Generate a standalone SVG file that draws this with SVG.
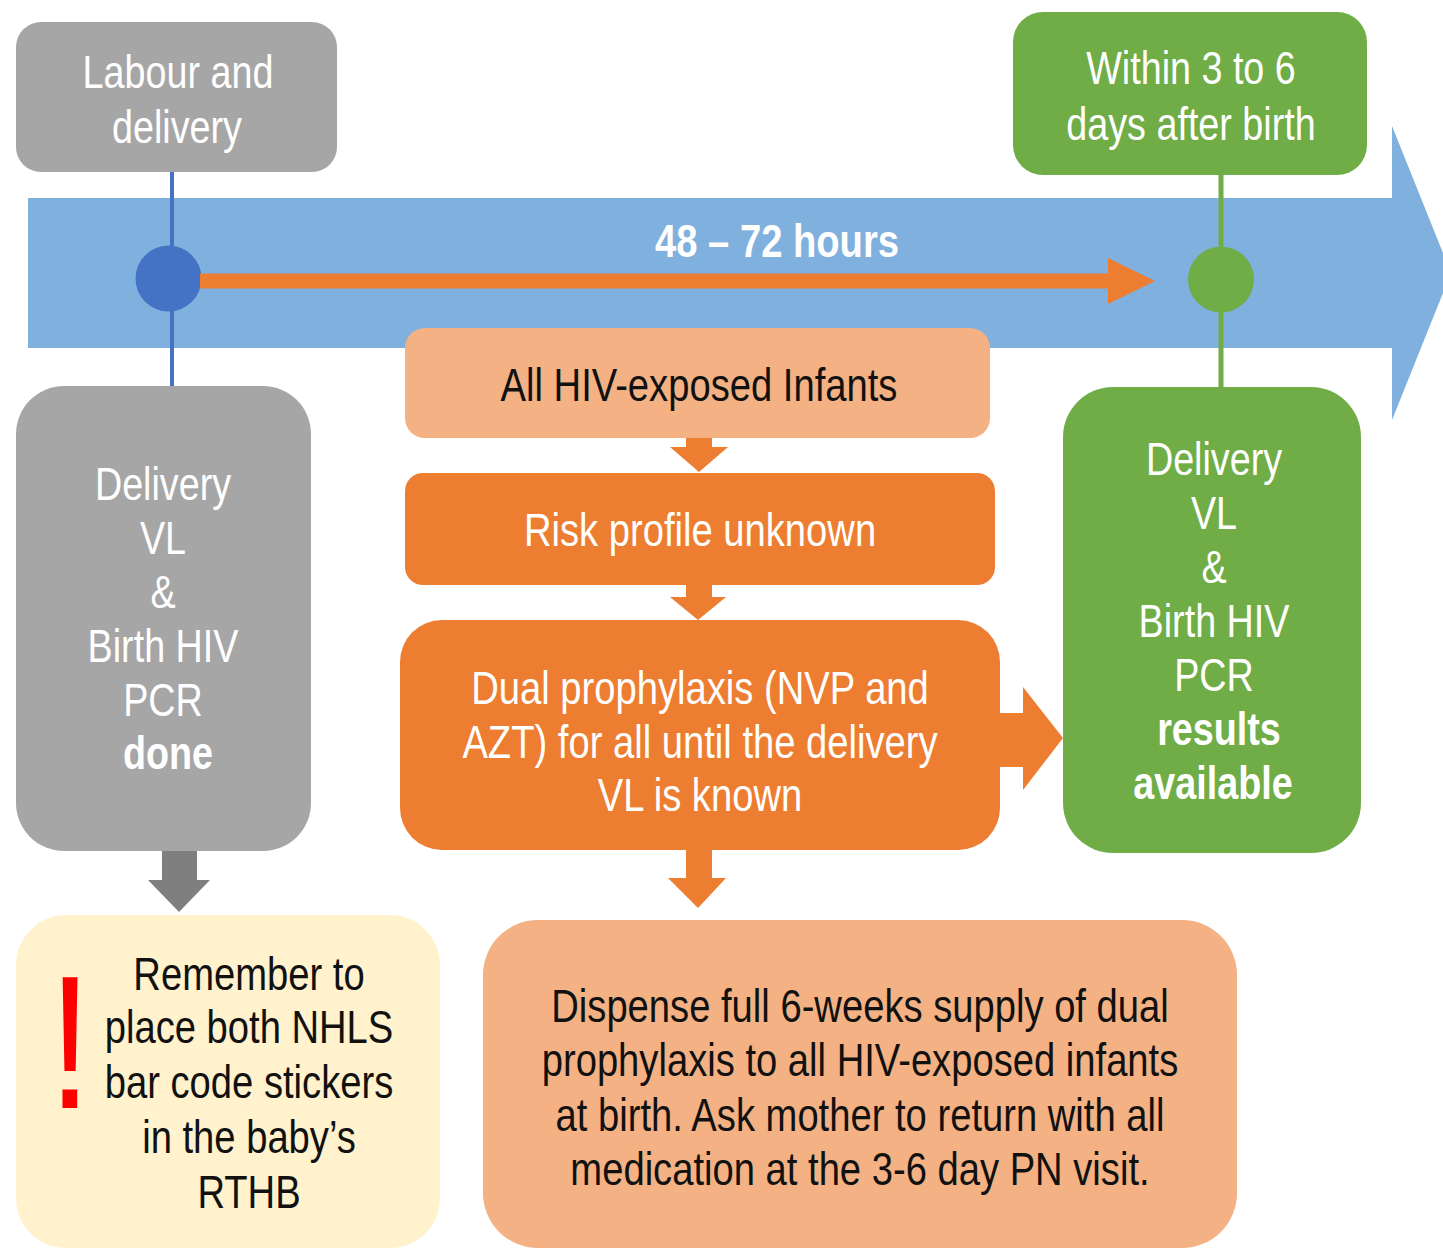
<svg xmlns="http://www.w3.org/2000/svg" width="1443" height="1251" viewBox="0 0 1443 1251">
<style>
text{font-family:"Liberation Sans Narrow","Liberation Sans",Arial,sans-serif;font-size:46px;text-anchor:middle}
.w{fill:#ffffff}
.k{fill:#111111}
.b{font-weight:bold}
</style>
<rect width="1443" height="1251" fill="#ffffff"/>
<g id="timeline">
<rect x="28" y="198" width="1365" height="150" fill="#7fb0de"/>
<polygon points="1392,126 1451,273 1392,420" fill="#7fb0de"/>
<text class="w b" transform="translate(777 257) scale(0.83 1)">48 – 72 hours</text>
</g>
<g id="connectors">
<line x1="172" y1="172" x2="172" y2="390" stroke="#4472c4" stroke-width="4"/>
<line x1="1221" y1="175" x2="1221" y2="388" stroke="#70ad47" stroke-width="5"/>
<circle cx="168.5" cy="278.5" r="33" fill="#4472c4"/>
<circle cx="1221" cy="279.5" r="33" fill="#70ad47"/>
<rect x="200" y="273.5" width="910" height="15" fill="#ed7d31"/>
<polygon points="1108,258 1155,281 1108,304" fill="#ed7d31"/>
<polygon points="686,436 712,436 712,447 728,447 699,472 670,447 686,447" fill="#ed7d31"/>
<polygon points="686,583 712,583 712,597 726,597 698,620 670,597 686,597" fill="#ed7d31"/>
<polygon points="686,848 712,848 712,878 726,878 698,908 668,878 686,878" fill="#ed7d31"/>
<polygon points="998,713 1023,713 1023,687 1063,738 1023,790 1023,767 998,767" fill="#ed7d31"/>
<polygon points="162,849 197,849 197,880 210,880 179,912 148,880 162,880" fill="#7f7f7f"/>
</g>
<g id="labour">
<rect x="16" y="22" width="321" height="150" rx="25" fill="#a6a6a6"/>
<text class="w" transform="translate(178 88) scale(0.82 1)">Labour and</text>
<text class="w" transform="translate(177 143) scale(0.82 1)">delivery</text>
</g>
<g id="within">
<rect x="1013" y="12" width="354" height="163" rx="30" fill="#70ad47"/>
<text class="w" transform="translate(1191 84) scale(0.82 1)">Within 3 to 6</text>
<text class="w" transform="translate(1191 140) scale(0.82 1)">days after birth</text>
</g>
<g id="done">
<rect x="16" y="386" width="295" height="465" rx="48" fill="#a6a6a6"/>
<text class="w" transform="translate(163 500) scale(0.82 1)">Delivery</text>
<text class="w" transform="translate(163 554) scale(0.82 1)">VL</text>
<text class="w" transform="translate(163 608) scale(0.82 1)">&amp;</text>
<text class="w" transform="translate(163 662) scale(0.82 1)">Birth HIV</text>
<text class="w" transform="translate(163 716) scale(0.82 1)">PCR</text>
<text class="w b" transform="translate(168 769) scale(0.82 1)">done</text>
</g>
<g id="allhiv">
<rect x="405" y="328" width="585" height="110" rx="20" fill="#f4b183"/>
<text class="k" transform="translate(699 401) scale(0.83 1)">All HIV-exposed Infants</text>
</g>
<g id="risk">
<rect x="405" y="473" width="590" height="112" rx="18" fill="#ed7d31"/>
<text class="w" transform="translate(700 546) scale(0.83 1)">Risk profile unknown</text>
</g>
<g id="dual">
<rect x="400" y="620" width="600" height="230" rx="42" fill="#ed7d31"/>
<text class="w" transform="translate(700 704) scale(0.83 1)">Dual prophylaxis (NVP and</text>
<text class="w" transform="translate(700 758) scale(0.83 1)">AZT) for all until the delivery</text>
<text class="w" transform="translate(700 811) scale(0.83 1)">VL is known</text>
</g>
<g id="results">
<rect x="1063" y="387" width="298" height="466" rx="50" fill="#70ad47"/>
<text class="w" transform="translate(1214 475) scale(0.82 1)">Delivery</text>
<text class="w" transform="translate(1214 529) scale(0.82 1)">VL</text>
<text class="w" transform="translate(1214 583) scale(0.82 1)">&amp;</text>
<text class="w" transform="translate(1214 637) scale(0.82 1)">Birth HIV</text>
<text class="w" transform="translate(1214 691) scale(0.82 1)">PCR</text>
<text class="w b" transform="translate(1219 745) scale(0.82 1)">results</text>
<text class="w b" transform="translate(1213 799) scale(0.82 1)">available</text>
</g>
<g id="remember">
<rect x="16" y="915" width="424" height="333" rx="50" fill="#fff2cc"/>
<text transform="translate(70 1108) scale(0.82 1)" style="font-size:189px;fill:#ff0000">!</text>
<text class="k" transform="translate(249 990) scale(0.83 1)">Remember to</text>
<text class="k" transform="translate(249 1043) scale(0.83 1)">place both NHLS</text>
<text class="k" transform="translate(249 1098) scale(0.83 1)">bar code stickers</text>
<text class="k" transform="translate(249 1153) scale(0.83 1)">in the baby’s</text>
<text class="k" transform="translate(249 1208) scale(0.83 1)">RTHB</text>
</g>
<g id="dispense">
<rect x="483" y="920" width="754" height="328" rx="55" fill="#f4b183"/>
<text class="k" transform="translate(860 1022) scale(0.83 1)">Dispense full 6-weeks supply of dual</text>
<text class="k" transform="translate(860 1076) scale(0.83 1)">prophylaxis to all HIV-exposed infants</text>
<text class="k" transform="translate(860 1131) scale(0.83 1)">at birth. Ask mother to return with all</text>
<text class="k" transform="translate(860 1185) scale(0.83 1)">medication at the 3-6 day PN visit.</text>
</g>
</svg>
